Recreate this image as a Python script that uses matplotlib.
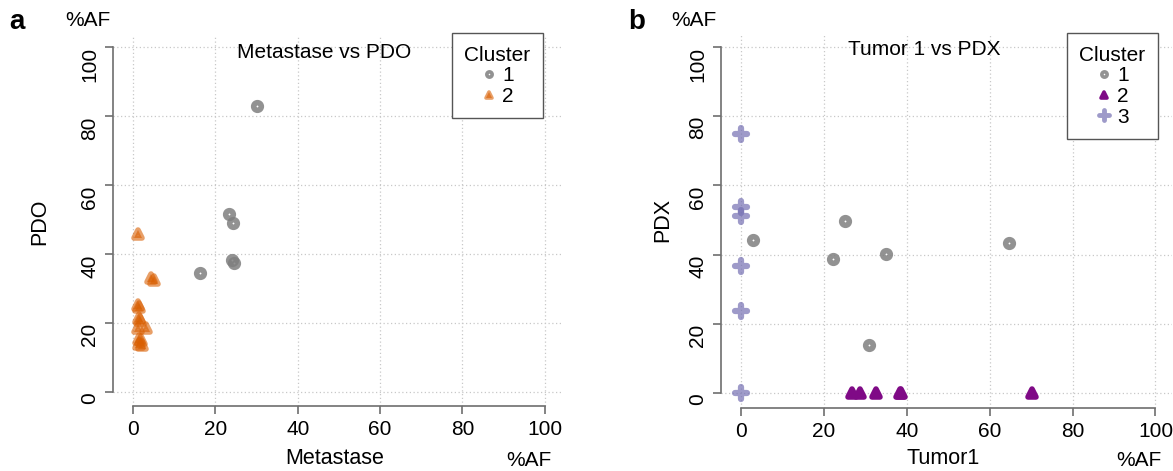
import matplotlib.pyplot as plt
from matplotlib.lines import Line2D
from matplotlib.markers import MarkerStyle

plt.rcParams["font.family"] = ["Liberation Sans", "DejaVu Sans"]

# panel a: Metastase vs PDO (%AF)
meta_c1_x = [30.0, 23.3, 24.3, 24.0, 24.6, 16.2]
meta_c1_y = [83.1, 51.6, 49.0, 38.2, 37.6, 34.5]
meta_c2_x = [1.2, 4.3, 5.0, 1.3, 1.5, 1.4, 1.6, 1.3, 3.1, 1.4, 1.8, 1.5, 2.2]
meta_c2_y = [45.9, 33.2, 32.6, 25.3, 24.8, 21.6, 21.0, 18.6, 18.6, 15.4, 15.0, 13.9, 13.7]

# panel b: Tumor1 vs PDX (%AF)
tum_c1_x = [3.0, 25.1, 22.2, 34.9, 30.8, 64.6]
tum_c1_y = [44.2, 49.8, 38.8, 40.3, 14.1, 43.3]
tum_c2_x = [26.7, 28.7, 32.5, 38.7, 38.3, 70.2]
tum_c2_y = [0.0, 0.0, 0.0, 0.0, 0.0, 0.0]
tum_c3_x = [0.0, 0.0, 0.0, 0.0, 0.0, 0.0]
tum_c3_y = [74.8, 53.7, 51.2, 36.9, 23.7, 0.0]

ticks = [0, 20, 40, 60, 80, 100]

GREY = "#7f7f7f"
ORANGE = "#D95F02"
PURPLE = "#7F0A86"
LAVENDER = "#7570B3"

circ = MarkerStyle("o")
tri = MarkerStyle("^", joinstyle="round")
plus = MarkerStyle("+", capstyle="round")

STYLE = {
    "c1": dict(marker=circ, ms=5.5, mew=4.0, mfc="none", color=GREY, alpha=0.85),
    "c2a": dict(marker=tri, ms=6.0, mew=4.0, mfc=ORANGE, color=ORANGE, alpha=0.6),
    "c2b": dict(marker=tri, ms=6.0, mew=4.0, mfc=PURPLE, color=PURPLE, alpha=1.0),
    "c3": dict(marker=plus, ms=8.0, mew=4.5, color=LAVENDER, alpha=0.7),
}


def style_axes(ax, xlim, ylim):
    ax.set_xlim(*xlim)
    ax.set_ylim(*ylim)
    ax.set_xticks(ticks)
    ax.set_yticks(ticks)
    ax.grid(True, linestyle=(0, (1, 2)), color="#c8c8c8", linewidth=0.9)
    ax.set_axisbelow(True)
    for s in ["top", "right"]:
        ax.spines[s].set_visible(False)
    for s in ["left", "bottom"]:
        ax.spines[s].set_bounds(0, 100)
        ax.spines[s].set_color("#6e6e6e")
        ax.spines[s].set_linewidth(1.2)
    ax.tick_params(direction="out", length=6, width=1.2, color="#6e6e6e",
                   labelsize=15, pad=4)
    for lab in ax.get_yticklabels():
        lab.set_rotation(90)
        lab.set_va("top")


def draw_legend(ax, handles, anchor):
    leg = ax.legend(handles=handles, title="Cluster", loc="upper right",
                    bbox_to_anchor=anchor, borderaxespad=0, fontsize=15,
                    title_fontsize=15, handlelength=0.7, handletextpad=0.3,
                    labelspacing=0.08, borderpad=0.6, fancybox=False,
                    framealpha=1, edgecolor="#555555")
    leg.get_frame().set_linewidth(1.0)
    leg._legend_box.align = "center"


fig = plt.figure(figsize=(11.73, 4.71), dpi=100)

# ---- panel a
ax1 = fig.add_axes([0.0963, 0.138, 0.3836, 0.7856])
ax1.plot(meta_c1_x, meta_c1_y, ls="none", **STYLE["c1"])
ax1.plot(meta_c2_x, meta_c2_y, ls="none", **STYLE["c2a"])
style_axes(ax1, (-4.9, 104.4), (-4.0, 103.3))
ax1.text(0.47, 0.955, "Metastase vs PDO", transform=ax1.transAxes,
         ha="center", va="center", fontsize=15)
h1 = [
    Line2D([], [], ls="none", marker=circ, ms=3.8, mew=2.6, mfc="none", color=GREY, alpha=0.85, label="1"),
    Line2D([], [], ls="none", marker=tri, ms=4.0, mew=2.6, mfc=ORANGE, color=ORANGE, alpha=0.6, label="2"),
]
draw_legend(ax1, h1, (0.956, 1.008))

# ---- panel b
ax2 = fig.add_axes([0.6147, 0.1344, 0.3845, 0.796])
ax2.plot(tum_c1_x, tum_c1_y, ls="none", **STYLE["c1"])
ax2.plot(tum_c2_x, tum_c2_y, ls="none", **STYLE["c2b"])
ax2.plot(tum_c3_x, tum_c3_y, ls="none", **STYLE["c3"])
style_axes(ax2, (-4.8, 104.0), (-4.1, 104.0))
ax2.text(0.45, 0.955, "Tumor 1 vs PDX", transform=ax2.transAxes,
         ha="center", va="center", fontsize=15)
h2 = [
    Line2D([], [], ls="none", marker=circ, ms=3.8, mew=2.6, mfc="none", color=GREY, alpha=0.85, label="1"),
    Line2D([], [], ls="none", marker=tri, ms=4.0, mew=2.6, mfc=PURPLE, color=PURPLE, label="2"),
    Line2D([], [], ls="none", marker=plus, ms=7, mew=3.5, color=LAVENDER, alpha=0.7, label="3"),
]
draw_legend(ax2, h2, (0.969, 0.999))

# axis titles, %AF tags and panel letters (pixel positions from the figure)
W, H = 1173, 471
def ftext(x, y, s, **kw):
    fig.text(x / W, 1 - y / H, s, ha="center", va="center", **kw)

ftext(335, 458, "Metastase", fontsize=15.5)
ftext(943, 458, "Tumor1", fontsize=15.5)
ftext(40, 222, "PDO", fontsize=15.5, rotation=90)
ftext(663, 220, "PDX", fontsize=15.5, rotation=90)
ftext(88, 21, "%AF", fontsize=15)
ftext(694, 21, "%AF", fontsize=15)
ftext(529, 460, "%AF", fontsize=15)
ftext(1139, 460, "%AF", fontsize=15)
ftext(17, 22, "a", fontsize=20, fontweight="bold")
ftext(637, 22, "b", fontsize=20, fontweight="bold")

fig.savefig("out.png", dpi=100)
